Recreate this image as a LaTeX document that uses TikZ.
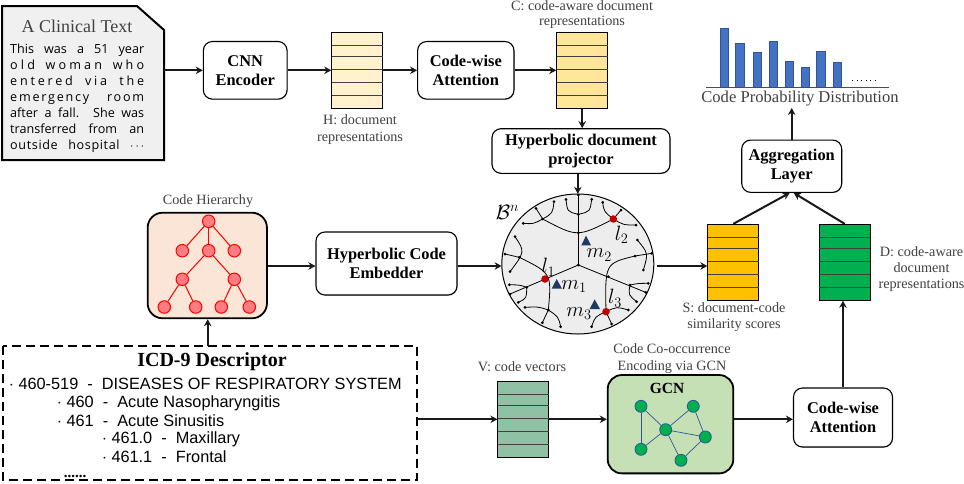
\documentclass[tikz,border=0pt]{standalone}
\usepackage{fontspec}
\setmainfont{Liberation Serif}
\newfontfamily\clinfont{Open Sans}
\newfontfamily\icdfont{Liberation Sans}
\usetikzlibrary{arrows.meta,shadows,calc}
\definecolor{lbl}{HTML}{404040}
\definecolor{cH}{HTML}{FFF2CC}
\definecolor{cC}{HTML}{FFE699}
\definecolor{cV}{HTML}{8FC1A5}
\definecolor{cS}{HTML}{FFC000}
\definecolor{cD}{HTML}{00B050}
\definecolor{cHier}{HTML}{FBE5D6}
\definecolor{cGcn}{HTML}{C5E0B4}
\definecolor{cBar}{HTML}{4472C4}
\definecolor{cBarD}{HTML}{2F5597}
\definecolor{cTree}{HTML}{FF7C80}
\definecolor{cTri}{HTML}{1F3864}
\definecolor{cDark}{HTML}{C00000}
\newdimen\fszd
\newcommand{\fsz}[1]{\fszd=#1pt \fszd=1.15\fszd \fontsize{#1}{\the\fszd}\selectfont}
\newcommand{\cln}[2]{\makebox[134pt][s]{\addfontfeature{LetterSpace=#1}#2}\\}
\tikzset{
  arr/.style={-{Stealth[length=7pt,width=7.5pt]},line width=2pt,black!90},
  softshadow/.style={drop shadow={shadow xshift=0.6pt,shadow yshift=-0.8pt,opacity=.35,fill=black!60}},
  procbox/.style={draw=black,line width=1.1pt,rounded corners=9pt,fill=white,softshadow,align=center,inner sep=0pt,font=\bfseries\fsz{16.4}},
  matbox/.style={draw=black,line width=.9pt,inner sep=0pt,minimum width=51pt,minimum height=76pt,softshadow},
  rowline/.style={black!75,line width=.8pt},
  lab/.style={text=lbl,align=center,inner sep=0pt,font=\fsz{14.2}},
  treenode/.style={circle,draw=red,fill=cTree,line width=1pt,minimum size=12.5pt,inner sep=0pt},
  treeedge/.style={red,line width=1pt},
  gnode/.style={circle,draw=cBarD,fill=cD,line width=.8pt,minimum size=12pt,inner sep=0pt},
  gedge/.style={cBarD,line width=.7pt},
  discline/.style={black,line width=.8pt},
  bar/.style={fill=cBar,draw=cBarD,line width=.5pt},
  mathlab/.style={inner sep=0pt,font=\fsz{19.5}},
  redpt/.style={circle,fill=cDark,inner sep=0pt,minimum size=7.5pt},
  tri/.style={fill=cTri}
}
\newcommand{\rows}[3]{%
  \foreach \d in {13,24,36.7,50,62.7}{\draw[rowline] (#1,#3+\d) -- (#2,#3+\d);}}
\begin{document}
\begin{tikzpicture}[x=1pt,y=-1pt]
\useasboundingbox (0,0) rectangle (964,483);
\coordinate (rowm) at (0,266);

% clinical note
\draw[line width=2pt,fill=black!6] (2,6) -- (137,6) -- (164,30) -- (164,160) -- (2,160) -- cycle;
\node[anchor=center,inner sep=0pt,minimum width=162pt,minimum height=154pt] (note) at (83,83) {};
\node[text=lbl,inner sep=0pt,font=\fsz{18}] (notetitle) at (77,26) {A Clinical Text};
\node[anchor=north west,inner sep=0pt,align=left,font=\clinfont\fontsize{12.6}{16}\selectfont] (notebody) at (10,44) {%
\cln{0}{This was a 51 year}
\cln{25}{old woman who}
\cln{22}{entered via the}
\cln{14}{emergency room}
\cln{0}{after a fall. She was}
\cln{0}{transferred from an}
\cln{5}{outside hospital $\cdots$}};

% process boxes
\node[procbox,minimum width=83.7pt,minimum height=57.6pt] (cnn) at (245.2,70.3) {CNN\\Encoder};
\node[procbox,minimum width=96.3pt,minimum height=57.6pt] (cwa) at (465.8,70.3) {Code-wise\\Attention};
\node[procbox,minimum width=178pt,minimum height=44.6pt] (hdp) at (581,151) {Hyperbolic document\\projector};
\node[procbox,minimum width=100pt,minimum height=52.3pt] (agg) at (791.7,166.2) {Aggregation\\Layer};
\node[procbox,minimum width=141pt,minimum height=63pt] (hce) at (386.5,263.5) {Hyperbolic Code\\Embedder};
\node[procbox,minimum width=99pt,minimum height=59pt] (cw2) at (843,417.5) {Code-wise\\Attention};

% matrices
\node[matbox,fill=cH] (H) at (357.2,70.3) {};
\rows{331.7}{382.7}{32.3}
\node[matbox,fill=cC] (C) at (582.2,70.3) {};
\rows{556.7}{607.7}{32.3}
\node[matbox,fill=cV] (V) at (523.3,419.3) {};
\rows{497.7}{548.9}{381.3}
\node[matbox,fill=cS] (S) at (733.3,262.3) {};
\rows{707.7}{758.9}{224.3}
\node[matbox,fill=cD] (D) at (844.7,262.3) {};
\rows{819.1}{870.3}{224.3}

% matrix labels
\node[lab,font=\fontsize{14.2}{15}\selectfont] (Clab) at (582,14.5) {C: code-aware document\\representations};
\node[lab] (Hlab) at (360,129.5) {H: document\\representations};
\node[lab] (Vlab) at (522,367) {V: code vectors};
\node[lab] (Gl) at (672,358.5) {Code Co-occurrence\\Encoding via GCN};
\node[lab] (Slab) at (734,317) {S: document-code\\similarity scores};
\node[lab] (Dlab) at (921.5,269) {D: code-aware\\document\\representations};
\node[lab] (Hier) at (208,201) {Code Hierarchy};

% bar chart
\foreach \xa/\ya in {121/84,167/129,219/156,268/124,316/185,364/203,410/155,460/187}{
  \draw[bar] ({680+\xa/3},{\ya/3}) rectangle ({680+(\xa+25)/3},{262/3});}
\draw[black!70,line width=.9pt] (706,87.3) -- (888.7,87.3);
\draw[black,line width=.9pt,dash pattern=on 1pt off 3.6pt] (852,80) -- (878,80);
\node[text=lbl,inner sep=0pt,font=\fsz{16.6}] (prob) at (800,99) {Code Probability Distribution};
\coordinate (probin) at (791.7,108);

% hierarchy
\node[draw=black,line width=1.8pt,fill=cHier,rounded corners=15pt,minimum width=119.3pt,minimum height=105.6pt,inner sep=0pt] (hier) at (207.3,265.5) {};
\node[treenode] (t0) at (208.7,221.3) {};
\node[treenode] (t1) at (182.3,250.7) {};
\node[treenode] (t2) at (208.7,250.7) {};
\node[treenode] (t3) at (234.3,250.7) {};
\node[treenode] (t4) at (182.3,279.3) {};
\node[treenode] (t5) at (234.3,279.3) {};
\node[treenode] (t6) at (164.3,307) {};
\node[treenode] (t7) at (195.7,307) {};
\node[treenode] (t8) at (221.3,307) {};
\node[treenode] (t9) at (249.3,307) {};
\foreach \a/\b in {t0/t1,t0/t2,t0/t3,t2/t4,t2/t5,t4/t6,t4/t7,t5/t8,t5/t9}{\draw[treeedge] (\a) -- (\b);}

% hyperbolic disc
\draw[fill=black!7,line width=1pt] (577.8,264) ellipse [x radius=76,y radius=70];
\node[inner sep=0pt,minimum width=152pt,minimum height=140pt] (disc) at (577.8,264) {};
\begin{scope}[shift={(480,170)},x=0.33333pt,y=-0.33333pt]
  \draw[discline] (295,285) -- (295,75);
  \draw[discline] (295,285) -- (90,372);
  \draw[discline] (295,285) -- (497,367);
  \draw[discline] (130,160) .. controls (160,162) .. (188,147);
  \draw[discline] (168,115) -- (188,147);
  \draw[discline] (222,95) .. controls (218,130) .. (188,147);
  \draw[discline] (188,147) .. controls (292,202) .. (400,147);
  \draw[discline] (368,97) .. controls (372,125) .. (400,147);
  \draw[discline] (423,120) -- (400,147);
  \draw[discline] (468,165) .. controls (430,165) .. (400,147);
  \draw[discline] (258,88) .. controls (262,125) .. (295,133);
  \draw[discline] (335,88) .. controls (330,125) .. (295,133);
  \draw[discline] (118,262) .. controls (215,310) .. (205,420);
  \draw[discline] (75,252) -- (118,262);
  \draw[discline] (105,200) .. controls (135,245) .. (90,305);
  \draw[discline] (88,344) .. controls (120,345) .. (140,352);
  \draw[discline] (140,352) .. controls (140,385) .. (115,397);
  \draw[discline] (135,412) .. controls (175,410) .. (205,420);
  \draw[discline] (187,458) -- (205,420);
  \draw[discline] (205,420) .. controls (235,440) .. (242,470);
  \draw[discline] (465,258) .. controls (375,280) .. (378,425);
  \draw[discline] (515,250) -- (465,258);
  \draw[discline] (472,210) .. controls (505,250) .. (490,300);
  \draw[discline] (505,340) .. controls (475,340) .. (450,345);
  \draw[discline] (470,395) .. controls (445,375) .. (450,345);
  \draw[discline] (335,470) .. controls (345,440) .. (378,425);
  \draw[discline] (445,420) .. controls (410,410) .. (378,425);
  \draw[discline] (395,462) -- (378,425);
  \foreach \u/\v in {295/75,295/133,295/188,295/285,188/147,130/160,168/115,222/95,368/97,423/120,468/165,258/88,335/88,118/262,75/252,105/200,90/305,88/344,90/372,140/352,115/397,135/412,205/420,187/458,242/470,465/258,515/250,472/210,490/300,385/320,450/345,505/340,497/367,470/395,335/470,445/420,395/462}{
    \fill (\u,\v) circle (1.5pt);
  }
  \node[redpt] (l2pt) at (400,147) {};
  \node[redpt] (l1pt) at (195,327) {};
  \node[redpt] (l3pt) at (378,425) {};
  \fill[tri] (304,226) -- (333,226) -- (318,197) -- cycle;
  \fill[tri] (215,356) -- (246,356) -- (230,327) -- cycle;
  \fill[tri] (329,417) -- (360,417) -- (344,388) -- cycle;
  \node[mathlab] (mB) at (82,127) {$\mathcal{B}^n$};
  \node[mathlab] (ml1) at (205,292) {$l_1$};
  \node[mathlab] (ml2) at (425,195) {$l_2$};
  \node[mathlab] (ml3) at (405,385) {$l_3$};
  \node[mathlab] (mm1) at (282,350) {$m_1$};
  \node[mathlab] (mm2) at (358,255) {$m_2$};
  \node[mathlab] (mm3) at (297,430) {$m_3$};
\end{scope}

% GCN
\node[draw=black,line width=1.8pt,fill=cGcn,rounded corners=14pt,minimum width=125.6pt,minimum height=98.3pt,inner sep=0pt] (gcnb) at (670.5,424.2) {};
\node[inner sep=0pt,font=\bfseries\fsz{15.5}] (gcnt) at (667,388) {GCN};
\node[gnode] (g1) at (641,406.3) {};
\node[gnode] (g2) at (693.3,406.3) {};
\node[gnode] (g3) at (665.7,429.7) {};
\node[gnode] (g4) at (705.3,437) {};
\node[gnode] (g5) at (641,449.3) {};
\node[gnode] (g6) at (681,460.3) {};
\foreach \a/\b in {g1/g5,g1/g3,g2/g3,g2/g4,g3/g4,g3/g5,g3/g6,g4/g6}{\draw[gedge] (\a) -- (\b);}

% ICD box
\draw[line width=2pt,dash pattern=on 9pt off 5pt] (3,346) rectangle (417,480);
\node[inner sep=0pt,minimum width=414pt,minimum height=134pt] (icd) at (210,413) {};
\node[inner sep=0pt,font=\bfseries\fsz{20}] (icdt) at (212,362) {ICD-9 Descriptor};
\begin{scope}[every node/.style={anchor=base west,inner sep=0pt,font=\icdfont\fsz{16.3}}]
\node (i1) at (9,389.5) {$\cdot$ 460-519\ \ -\ \ DISEASES OF RESPIRATORY SYSTEM};
\node (i2) at (57,407.5) {$\cdot$ 460\ \ -\ \ Acute Nasopharyngitis};
\node (i3) at (57,426) {$\cdot$ 461\ \ -\ \ Acute Sinusitis};
\node (i4) at (102,443.5) {$\cdot$ 461.0\ \ -\ \ Maxillary};
\node (i5) at (102,462.5) {$\cdot$ 461.1\ \ -\ \ Frontal};
\end{scope}
\node[inner sep=0pt,font=\bfseries\fsz{15}] (i6) at (75,476) {......};

% connectors
\draw[arr] (note.east |- cnn.west) -- (cnn.west);
\draw[arr] (cnn.east) -- (H.west);
\draw[arr] (H.east) -- (cwa.west);
\draw[arr] (cwa.east) -- (C.west);
\draw[arr] (C.south) -- (C.south |- hdp.north);
\draw[arr] (hdp.south -| disc.north) -- (disc.north);
\draw[arr] (hier.east |- rowm) -- (hce.west |- rowm);
\draw[arr] (hce.east |- rowm) -- (disc.west |- rowm);
\draw[arr] ([xshift=3pt]disc.east |- rowm) -- (S.west |- rowm);
\draw[arr] (S.north) -- ([xshift=-2pt]agg.south);
\draw[arr] (D.north) -- ([xshift=2pt]agg.south);
\draw[arr] (agg.north) -- (probin);
\draw[arr] ([xshift=-2.3pt]icd.north) -- ([xshift=-2.3pt]icd.north |- hier.south);
\draw[arr] (icd.east |- V.west) -- (V.west);
\draw[arr] (V.east) -- (gcnb.west |- V.east);
\draw[arr] (gcnb.east |- V.east) -- (cw2.west |- V.east);
\draw[arr] (cw2.north) -- (cw2.north |- D.south);
\end{tikzpicture}
\end{document}
